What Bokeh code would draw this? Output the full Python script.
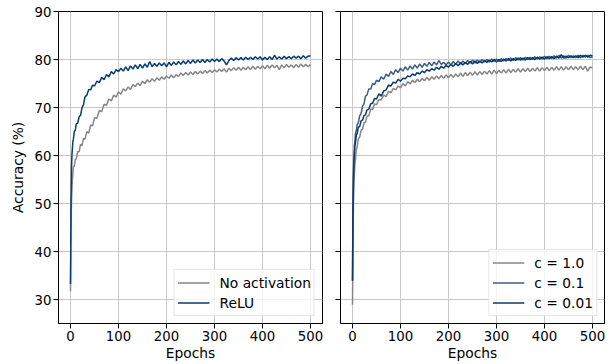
from bokeh.plotting import figure
from bokeh.layouts import row
from bokeh.models import Range1d, FixedTicker
from bokeh.embed import file_html
from bokeh.resources import INLINE

# ---------------- data ----------------
EPOCHS = [0, 1, 2, 3, 4, 5, 6, 8, 10, 12, 15, 18, 21, 24, 27, 30, 34, 38, 42, 46,
          50, 55, 60, 65, 70, 75, 80, 85, 90, 95,
          100, 105, 110, 115, 120, 125, 130, 135, 140, 145, 150, 155, 160, 165, 170, 175, 180, 185, 190, 195,
          200, 205, 210, 215, 220, 225, 230, 235, 240, 245, 250, 255, 260, 265, 270, 275, 280, 285, 290, 295,
          300, 305, 310, 315, 320, 325, 330, 335, 340, 345, 350, 355, 360, 365, 370, 375, 380, 385, 390, 395,
          400, 405, 410, 415, 420, 425, 430, 435, 440, 445, 450, 455, 460, 465, 470, 475, 480, 485, 490, 495, 500]

NO_ACTIVATION = [31.8, 44.0, 50.2, 52.8, 55.1, 56.3, 57.6, 57.9, 59.2, 59.3, 60.9, 60.8, 62.4, 62.1, 63.6, 63.4, 65.0, 64.7, 66.4, 66.2,
                 67.9, 67.8, 69.4, 69.2, 70.7, 70.5, 71.8, 71.4, 72.6, 72.2,
                 73.3, 72.8, 73.9, 73.5, 74.3, 73.8, 74.8, 74.4, 75.1, 74.6, 75.5, 75.0, 75.8, 75.3, 76.0, 75.5, 76.2, 75.7, 76.4, 75.9,
                 76.6, 76.1, 76.8, 76.2, 76.9, 76.5, 77.2, 76.7, 77.3, 76.8, 77.4, 76.9, 77.5, 77.0, 77.6, 77.1, 77.7, 77.2, 77.8, 77.3,
                 77.9, 77.4, 78.0, 77.5, 78.1, 77.4, 78.2, 77.7, 78.3, 77.8, 78.4, 77.8, 78.4, 77.9, 78.5, 77.9, 78.6, 78.0, 78.6, 78.1,
                 78.7, 78.1, 78.8, 78.2, 78.9, 78.3, 78.8, 77.9, 78.9, 78.3, 79.0, 78.4, 78.9, 78.3, 79.0, 78.4, 79.1, 78.5, 79.0, 78.5, 79.0]

RELU = [33.3, 50.0, 57.0, 60.2, 61.6, 63.0, 63.4, 65.1, 65.3, 66.6, 66.8, 68.1, 68.4, 70.0, 70.6, 72.2, 72.6, 73.8, 73.7, 74.7,
        74.5, 75.5, 75.2, 76.3, 75.8, 76.9, 76.4, 77.5, 77.0, 77.9,
        77.5, 78.2, 77.6, 78.5, 77.7, 78.7, 78.0, 78.9, 78.1, 79.0, 78.2, 79.1, 78.4, 79.6, 78.5, 79.2, 78.6, 79.3, 78.7, 79.3,
        78.5, 79.4, 78.8, 79.5, 78.9, 79.6, 79.0, 79.7, 79.1, 79.8, 79.2, 79.9, 79.3, 79.9, 79.4, 80.0, 79.4, 80.0, 79.5, 80.1,
        79.6, 80.1, 79.6, 80.2, 79.7, 78.9, 79.8, 80.3, 79.8, 80.4, 79.9, 80.4, 79.9, 80.5, 80.0, 80.5, 80.0, 80.6, 80.1, 80.6,
        79.9, 80.5, 80.0, 80.6, 80.0, 80.9, 80.1, 80.6, 80.1, 80.7, 80.2, 80.6, 80.2, 80.7, 80.3, 80.7, 80.2, 80.8, 80.3, 80.7, 80.8]

C_1_0 = [29.0, 42.0, 50.0, 54.2, 56.3, 58.2, 59.0, 61.2, 62.0, 63.5, 63.9, 65.3, 65.5, 66.9, 66.9, 68.2, 68.3, 69.7, 69.6, 70.8,
         70.6, 71.7, 71.6, 72.6, 72.3, 73.4, 73.1, 74.0, 73.7, 74.5,
         74.1, 75.0, 74.5, 75.4, 74.9, 75.7, 75.2, 75.9, 75.4, 76.1, 75.6, 76.3, 75.7, 76.4, 75.9, 76.6, 76.0, 76.7, 76.1, 76.8,
         76.2, 76.9, 76.3, 77.0, 76.4, 77.2, 76.5, 77.3, 76.6, 77.4, 76.7, 77.5, 76.8, 77.5, 76.9, 77.6, 77.0, 77.7, 77.0, 77.8,
         77.1, 77.8, 77.2, 77.9, 77.2, 78.0, 77.3, 78.0, 77.4, 78.1, 77.4, 78.1, 77.5, 78.2, 77.5, 78.2, 77.6, 78.3, 77.6, 78.3,
         77.7, 78.4, 77.7, 78.4, 77.8, 78.5, 77.8, 78.5, 77.8, 78.5, 77.9, 78.6, 77.9, 78.5, 77.9, 78.6, 77.9, 78.6, 77.6, 78.5, 78.2]

C_0_1 = [34.0, 50.0, 57.2, 59.8, 62.2, 63.0, 64.5, 65.3, 66.6, 66.8, 68.3, 68.8, 70.3, 70.8, 72.4, 72.6, 73.9, 73.9, 75.0, 74.8,
         75.7, 75.4, 76.4, 75.9, 77.0, 76.5, 77.5, 76.9, 77.9, 77.3,
         78.2, 77.6, 78.5, 77.8, 78.7, 78.0, 78.9, 78.2, 79.1, 78.4, 79.2, 78.6, 79.4, 78.7, 79.5, 78.9, 79.8, 79.0, 79.4, 78.9,
         79.5, 78.9, 79.6, 79.0, 79.7, 79.1, 79.7, 79.2, 79.8, 79.3, 79.9, 79.3, 79.9, 79.4, 80.0, 79.5, 80.0, 79.5, 80.1, 79.6,
         80.1, 79.6, 80.2, 79.7, 80.2, 79.8, 80.3, 79.8, 80.4, 79.9, 80.4, 79.9, 80.5, 80.0, 80.5, 80.0, 80.6, 80.1, 80.6, 80.1,
         80.7, 80.2, 80.7, 80.2, 80.8, 80.3, 80.9, 80.3, 80.8, 80.3, 80.9, 80.4, 80.8, 80.4, 80.9, 80.4, 80.9, 80.5, 80.9, 80.4, 80.6]

C_0_01 = [34.0, 48.0, 55.0, 58.7, 60.3, 62.0, 62.6, 64.3, 64.7, 65.9, 66.1, 67.3, 67.4, 68.4, 68.5, 69.5, 69.7, 70.8, 70.9, 71.9,
          71.8, 72.9, 72.4, 73.5, 73.7, 74.7, 74.5, 75.3, 75.1, 75.9,
          75.5, 76.1, 76.0, 76.6, 76.4, 77.0, 76.7, 77.3, 77.0, 77.6, 77.3, 77.9, 77.6, 78.1, 77.8, 78.4, 78.0, 78.6, 78.2, 78.8,
          78.4, 79.0, 78.6, 79.2, 78.7, 79.3, 78.9, 79.4, 79.0, 79.6, 79.1, 79.7, 79.2, 79.7, 79.3, 79.8, 79.4, 79.9, 79.5, 80.0,
          79.5, 80.0, 79.6, 80.1, 79.7, 80.2, 79.7, 80.2, 79.8, 80.3, 79.9, 80.3, 79.9, 80.4, 80.0, 80.4, 80.0, 80.5, 80.1, 80.5,
          80.1, 80.6, 80.2, 80.6, 80.2, 80.7, 80.3, 81.0, 80.3, 80.7, 80.4, 80.8, 80.4, 80.8, 80.4, 80.9, 80.5, 80.9, 80.5, 80.9, 80.8]

X_TICKS = [0, 100, 200, 300, 400, 500]
Y_TICKS = [30, 40, 50, 60, 70, 80, 90]

GRAY = "#878787"
NAVY = "#073c6e"
SLATE = "#3b5e87"
DARK = "#0b3a69"

FONT = "DejaVu Sans"
FS_TICK = "13.3px"
FS_LABEL = "13.8px"
FS_LEGEND = "13.8px"


def make_fig(width, left_border, right_border, show_ylabels):
    p = figure(width=width, height=364, output_backend="svg", toolbar_location=None,
               x_range=Range1d(-25, 525), y_range=Range1d(25.1, 90),
               min_border_left=left_border, min_border_right=right_border,
               min_border_top=11, min_border_bottom=41)
    p.background_fill_color = "white"
    p.border_fill_color = "white"
    p.outline_line_color = "black"
    p.outline_line_width = 1
    p.xaxis.ticker = FixedTicker(ticks=X_TICKS)
    p.yaxis.ticker = FixedTicker(ticks=Y_TICKS)
    for ax in p.axis:
        ax.major_tick_out = 5
        ax.major_tick_in = 0
        ax.minor_tick_out = 0
        ax.minor_tick_in = 0
        ax.axis_line_color = "black"
        ax.major_tick_line_color = "black"
        ax.major_label_text_font = FONT
        ax.major_label_text_font_size = FS_TICK
        ax.major_label_text_color = "black"
        ax.major_label_standoff = 2
        ax.axis_label_text_font = FONT
        ax.axis_label_text_font_size = FS_LABEL
        ax.axis_label_text_font_style = "normal"
        ax.axis_label_text_color = "black"
        ax.axis_label_standoff = 1
    p.xaxis.axis_label = "Epochs"
    if show_ylabels:
        p.yaxis.axis_label = "Accuracy (%)"
        p.yaxis.axis_label_standoff = 6
    else:
        p.yaxis.major_label_overrides = {t: "" for t in Y_TICKS}
        p.yaxis.major_label_standoff = 0
    p.grid.grid_line_color = "#c8c8c8"
    p.grid.grid_line_width = 1
    return p


def style_legend(p):
    lg = p.legend[0]
    lg.location = "bottom_right"
    lg.margin = 7
    lg.padding = 3
    lg.spacing = 1
    lg.glyph_width = 32
    lg.glyph_height = 19
    lg.label_height = 19
    lg.label_standoff = 10
    lg.label_text_font = FONT
    lg.label_text_font_size = FS_LEGEND
    lg.label_text_color = "black"
    lg.border_line_color = "#cccccc"
    lg.border_line_width = 1
    lg.background_fill_color = "white"
    lg.background_fill_alpha = 0.8


p1 = make_fig(332, 58, 10, True)
p1.line(EPOCHS, NO_ACTIVATION, line_color=GRAY, line_width=1.5, legend_label="No activation")
p1.line(EPOCHS, RELU, line_color=NAVY, line_width=1.5, legend_label="ReLU")
style_legend(p1)

p2 = make_fig(279, 8, 7, False)
p2.line(EPOCHS, C_1_0, line_color=GRAY, line_width=1.5, legend_label="c = 1.0")
p2.line(EPOCHS, C_0_1, line_color=SLATE, line_width=1.5, legend_label="c = 0.1")
p2.line(EPOCHS, C_0_01, line_color=DARK, line_width=1.5, legend_label="c = 0.01")
style_legend(p2)

layout = row(p1, p2)
open("out.html", "w").write(file_html(layout, INLINE))
